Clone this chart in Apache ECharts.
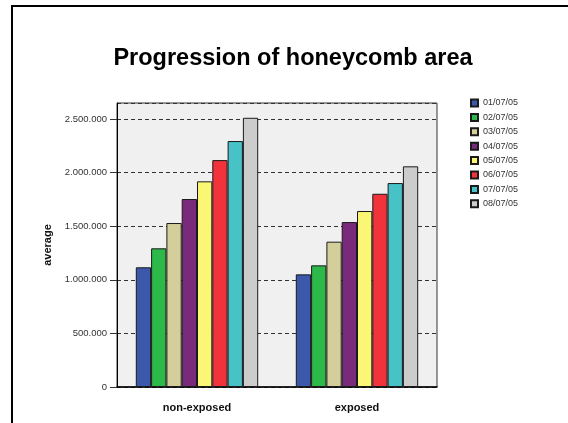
<!DOCTYPE html>
<html>
<head>
<meta charset="utf-8">
<script src="https://cdn.jsdelivr.net/npm/echarts@6/dist/echarts.min.js"></script>
<style>
  html, body { margin: 0; padding: 0; background: #fff; }
  #chart { width: 568px; height: 423px; }
</style>
</head>
<body>
<div id="chart"></div>
<script>
  // groups on the x axis
  var categories = ['non-exposed', 'exposed'];
  // one series per date
  var dates = ['01/07/05', '02/07/05', '03/07/05', '04/07/05', '05/07/05', '06/07/05', '07/07/05', '08/07/05'];
  var nonExposed = [1117000, 1294000, 1530000, 1754000, 1919000, 2117000, 2295000, 2512000];
  var exposed = [1051000, 1135000, 1356000, 1539000, 1642000, 1803000, 1903000, 2059000];
  var colors = ['#3c58aa', '#2db84a', '#d4cf9a', '#7a2a7b', '#fbf774', '#f2333b', '#47c3c7', '#cccccc'];

  function fmt(v) {
    return String(v).replace(/\B(?=(\d{3})+(?!\d))/g, '.');
  }

  var chart = echarts.init(document.getElementById('chart'), null, { renderer: 'canvas' });

  var series = dates.map(function (d, i) {
    return {
      name: d,
      type: 'bar',
      data: [nonExposed[i], exposed[i]],
      barWidth: 15.3,
      barGap: '0%',
      itemStyle: {
        color: colors[i],
        borderColor: '#1a1a1a',
        borderWidth: 1
      },
      animation: false
    };
  });

  chart.setOption({
    animation: false,
    textStyle: { fontFamily: 'Liberation Sans, Arial, sans-serif' },
    title: {
      text: 'Progression of honeycomb area',
      left: 288,
      textAlign: 'center',
      top: 42,
      textStyle: { fontSize: 23.5, fontWeight: 'bold', color: '#000' }
    },
    graphic: [{
      type: 'rect',
      shape: { x: 12, y: 6, width: 700, height: 600 },
      style: { fill: null, stroke: '#000', lineWidth: 2 },
      silent: true
    }],
    legend: {
      orient: 'vertical',
      left: 470,
      top: 98,
      padding: 0,
      icon: 'rect',
      itemWidth: 7,
      itemHeight: 7,
      itemGap: 4.4,
      textStyle: { fontSize: 9, color: '#333', lineHeight: 10 },
      data: dates
    },
    grid: {
      left: 117,
      top: 103,
      right: 131,
      bottom: 36,
      show: true,
      backgroundColor: '#f0f0f0',
      borderColor: '#333',
      borderWidth: 1
    },
    xAxis: {
      type: 'category',
      data: categories,
      axisLine: { lineStyle: { color: '#000', width: 1.5 } },
      axisTick: { alignWithLabel: true, length: 10, lineStyle: { color: '#333' } },
      axisLabel: { fontSize: 11, fontWeight: 'bold', color: '#111', margin: 15 }
    },
    yAxis: {
      type: 'value',
      min: 0,
      max: 2650000,
      interval: 500000,
      name: 'average',
      nameLocation: 'middle',
      nameGap: 57,
      nameTextStyle: { fontSize: 11, fontWeight: 'bold', color: '#111' },
      axisLine: { show: true, lineStyle: { color: '#000' } },
      axisTick: { show: true, length: 7, lineStyle: { color: '#333' } },
      axisLabel: {
        fontSize: 9.5,
        color: '#333',
        margin: 10,
        showMaxLabel: false,
        formatter: function (v) { return fmt(v); }
      },
      splitLine: { show: true, lineStyle: { color: '#333', type: [4, 3], width: 1 } }
    },
    series: series
  });
</script>
</body>
</html>
